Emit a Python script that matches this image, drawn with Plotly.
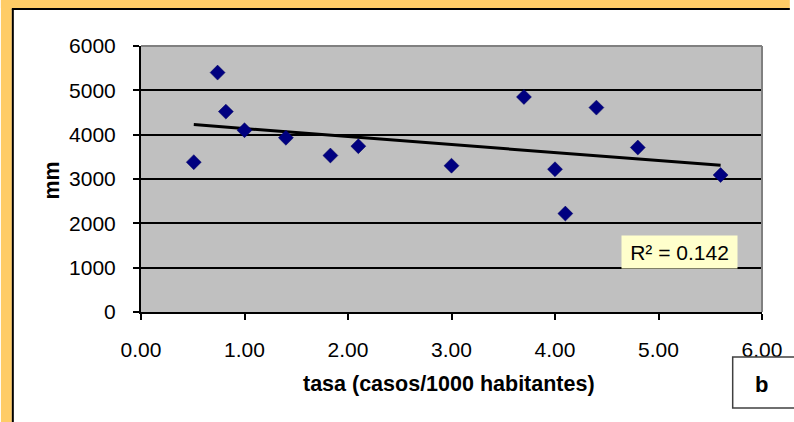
import numpy as np
import plotly.graph_objects as go

# ---- data ----
tasa = [0.51, 0.74, 0.82, 1.00, 1.40, 1.83, 2.10, 3.00, 3.70, 4.00, 4.10, 4.40, 4.80, 5.60]
mm = [3380, 5400, 4520, 4100, 3930, 3530, 3740, 3300, 4850, 3220, 2220, 4610, 3710, 3090]
x_tick_vals = [0, 1, 2, 3, 4, 5, 6]
x_tick_text = ["0.00", "1.00", "2.00", "3.00", "4.00", "5.00", "6.00"]
y_tick_vals = [0, 1000, 2000, 3000, 4000, 5000, 6000]
r2_text = "R² = 0.142"
x_title = "tasa (casos/1000 habitantes)"
y_title = "mm"
panel_label = "b"

# ---- linear trend line from the data ----
slope, intercept = np.polyfit(tasa, mm, 1)
trend_x = [min(tasa), max(tasa)]
trend_y = [slope * v + intercept for v in trend_x]

W, H = 794, 422
ML, MR, MT, MB = 141, 28, 46, 110
PW, PH = W - ML - MR, H - MT - MB

def px(x):
    return (x - ML) / PW

def py(y):
    return (H - MB - y) / PH

FONT = "Arial, Liberation Sans, sans-serif"

fig = go.Figure()
fig.add_trace(go.Scatter(
    x=trend_x, y=trend_y, mode="lines",
    line=dict(color="black", width=3), hoverinfo="skip", showlegend=False))
fig.add_trace(go.Scatter(
    x=tasa, y=mm, mode="markers",
    marker=dict(symbol="diamond", size=11.5, color="#000080",
                line=dict(color="#000060", width=0.5)),
    showlegend=False))

shapes = [
    # orange frame (left and top strips)
    dict(type="rect", xref="paper", yref="paper", x0=px(0), x1=px(11), y0=py(H), y1=py(0),
         fillcolor="#FFCC66", line=dict(width=0)),
    dict(type="rect", xref="paper", yref="paper", x0=px(0), x1=px(W), y0=py(8), y1=py(0),
         fillcolor="#FFCC66", line=dict(width=0)),
    # black inner border lines
    dict(type="line", xref="paper", yref="paper", x0=px(12), x1=px(12), y0=py(9), y1=py(H),
         line=dict(color="black", width=2)),
    dict(type="line", xref="paper", yref="paper", x0=px(11), x1=px(W), y0=py(9), y1=py(9),
         line=dict(color="black", width=2)),
    # plot-area top and right borders (gray)
    dict(type="line", xref="paper", yref="paper", x0=0, x1=1, y0=1, y1=1,
         line=dict(color="#808080", width=2)),
    dict(type="line", xref="paper", yref="paper", x0=1, x1=1, y0=0, y1=1,
         line=dict(color="#808080", width=2)),
    # panel-label box (runs off the right edge)
    dict(type="rect", xref="paper", yref="paper", x0=px(736.5), x1=px(W + 20), y0=py(408), y1=py(357),
         fillcolor="white", line=dict(color="#404040", width=1.5)),
]

annotations = [
    dict(text=r2_text, xref="paper", yref="paper", x=px(683), y=py(252),
         xanchor="center", yanchor="middle", showarrow=False,
         bgcolor="#FFFFCC", width=113, height=30, borderpad=1,
         font=dict(family=FONT, size=21, color="black")),
    dict(text="<b>" + panel_label + "</b>", xref="paper", yref="paper", x=px(765), y=py(384),
         xanchor="center", yanchor="middle", showarrow=False,
         font=dict(family=FONT, size=22, color="black")),
    dict(text="<b>" + x_title + "</b>", xref="paper", yref="paper", x=px(451), y=py(384),
         xanchor="center", yanchor="middle", showarrow=False,
         font=dict(family=FONT, size=21.5, color="black")),
    dict(text="<b>" + y_title + "</b>", xref="paper", yref="paper", x=px(51), y=py(181),
         xanchor="center", yanchor="middle", showarrow=False, textangle=-90,
         font=dict(family=FONT, size=21.5, color="black")),
]

fig.update_layout(
    width=W, height=H, autosize=False,
    margin=dict(l=ML, r=MR, t=MT, b=MB, pad=0),
    paper_bgcolor="white", plot_bgcolor="#C0C0C0",
    font=dict(family=FONT, size=21, color="black"),
    shapes=shapes, annotations=annotations,
    xaxis=dict(range=[0, 6], tickvals=x_tick_vals, ticktext=x_tick_text,
               showgrid=False, zeroline=False, showline=True, linecolor="black", linewidth=2,
               ticks="outside", ticklen=6, tickwidth=2, tickcolor="black",
               ticklabelstandoff=12, tickfont=dict(family=FONT, size=21, color="black")),
    yaxis=dict(range=[0, 6000], tickvals=y_tick_vals, showgrid=True, gridcolor="black",
               gridwidth=1.5, zeroline=False, showline=True, linecolor="black", linewidth=2,
               ticks="outside", ticklen=6, tickwidth=2, tickcolor="black",
               ticklabelstandoff=13, tickfont=dict(family=FONT, size=21, color="black")),
)

fig.write_html(
    "out.html",
    config={"displayModeBar": False},
    post_script="document.body.style.margin='0';document.body.style.overflow='hidden';",
)
